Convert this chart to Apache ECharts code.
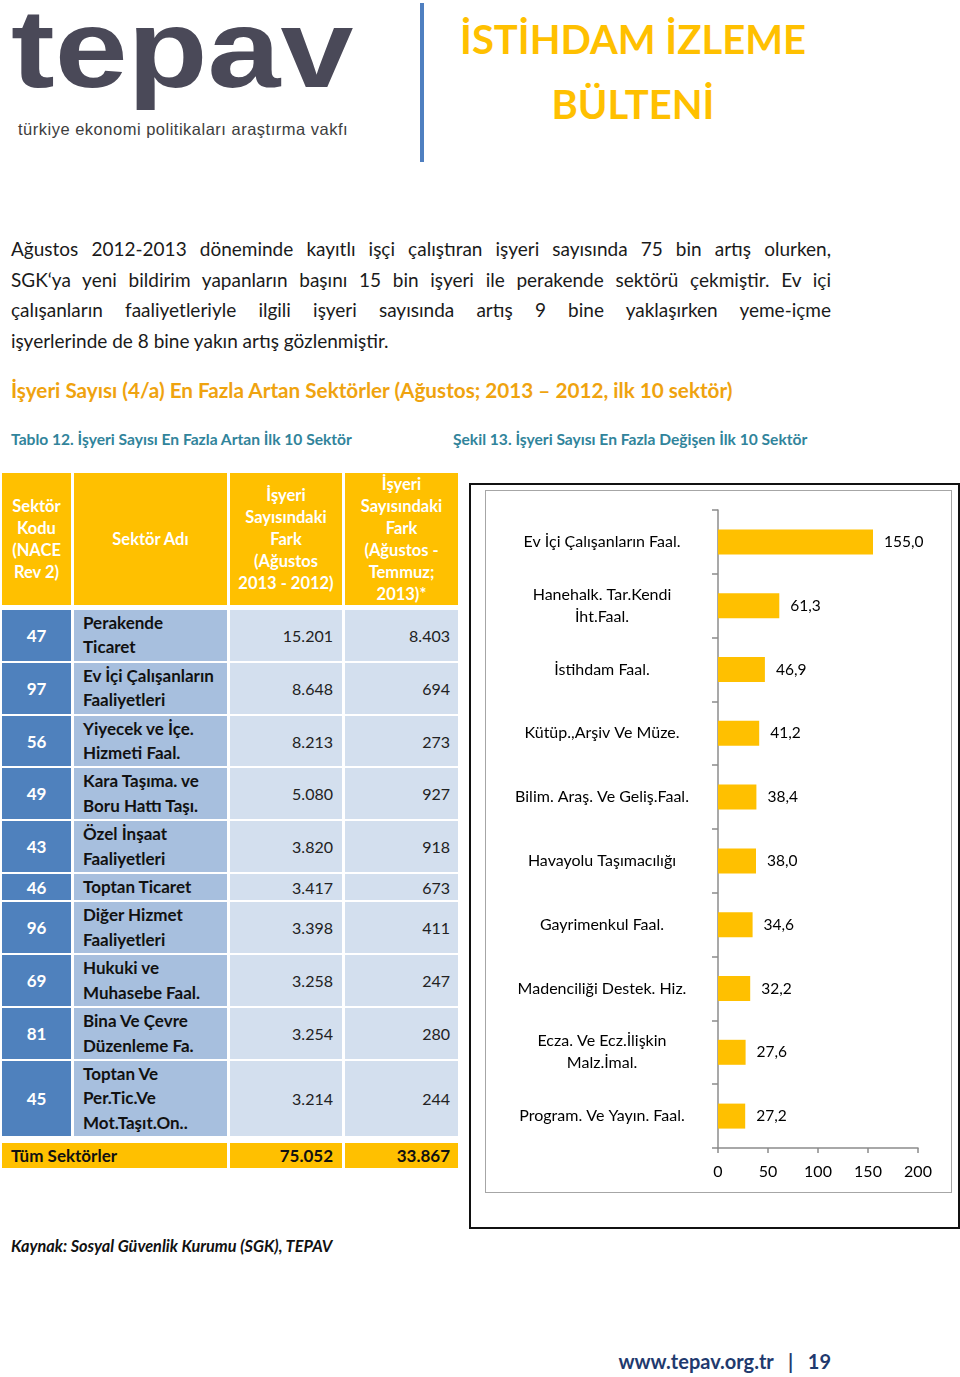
<!DOCTYPE html>
<html lang="tr">
<head>
<meta charset="utf-8">
<script src="https://cdn.jsdelivr.net/npm/echarts@6/dist/echarts.min.js"></script>
<style>
  html, body { margin:0; padding:0; width:960px; height:1377px; overflow:hidden; background:#fff; }
  body { position:relative; font-family: Lato, "Open Sans", sans-serif; }
  .abs { position:absolute; white-space:nowrap; }
  #logo { left:11px; top:-7px; font-family:"Liberation Sans", Arial, sans-serif; font-weight:bold; font-size:112px; line-height:112px; color:#4a4958; letter-spacing:0px; transform:scaleX(1.17); transform-origin:left top; }
  #logosub { left:18px; top:119px; font-family:"Liberation Sans", Arial, sans-serif; font-size:16.5px; line-height:20px; letter-spacing:0.5px; color:#3d3d3d; }
  #vline { left:420px; top:3px; width:4px; height:159px; background:#4f7fc0; }
  #title { left:433px; top:7px; width:400px; text-align:center; font-weight:bold; font-size:40px; line-height:65px; color:#FFC000; white-space:normal; }
  #para { left:11px; top:234px; width:820px; font-size:19px; line-height:30.67px; color:#1a1a1a; white-space:normal; }
  #para div { text-align:justify; text-align-last:justify; }
  #para div.last { text-align-last:left; }
  #heading { left:11px; top:375px; font-size:20.7px; line-height:30px; font-weight:bold; color:#EFA30F; }
  .sub { top:429px; font-size:15.6px; line-height:20px; font-weight:bold; color:#31849B; }
  #tbl { position:absolute; left:-1px; top:471px; border-collapse:separate; border-spacing:3px 2px; table-layout:fixed; width:462px; font-family:Lato, sans-serif; }
  #tbl th, #tbl td { padding:0; box-sizing:border-box; }
  #tbl th { background:#FFC000; color:#fff; font-weight:bold; font-size:16.5px; line-height:22px; height:131px; vertical-align:middle; text-align:center; }
  #tbl td.code { background:#4F81BD; color:#fff; font-weight:bold; font-size:17px; text-align:center; vertical-align:middle; }
  #tbl td.name { background:#A7BFDE; color:#111; font-weight:bold; font-size:17px; line-height:24.4px; padding:1px 0 1px 9px; white-space:pre-line; text-align:left; vertical-align:middle; }
  #tbl td.num { background:#D3DFEE; color:#222; font-size:16px; text-align:right; vertical-align:middle; padding-right:9px; }
  #tbl tr.tot td { background:#FFC000; color:#111; font-weight:bold; font-size:17px; line-height:25px; height:25px; }
  #tbl tr.tot td.lbl { text-align:left; padding-left:9px; }
  #tbl tr.tot td.tn { text-align:right; padding-right:9px; }
  #tbl tr.sp td { background:none; }
  #outer { left:469px; top:483px; width:491px; height:746px; box-sizing:border-box; border:2px solid #111; }
  #inner { left:485px; top:490px; width:467px; height:703px; box-sizing:border-box; border:1.5px solid #a6a6a6; }
  #chart { position:absolute; left:469px; top:483px; width:491px; height:746px; }
  #source { left:11px; top:1235px; font-size:16.3px; line-height:22px; font-weight:bold; font-style:italic; color:#111; }
  #foot { right:129px; top:1348px; font-size:20px; line-height:26px; font-weight:bold; color:#1F3A6E; }
</style>
</head>
<body>
<div id="logo" class="abs">tepav</div>
<div id="logosub" class="abs">türkiye ekonomi politikaları araştırma vakfı</div>
<div id="vline" class="abs"></div>
<div id="title" class="abs">İSTİHDAM İZLEME<br>BÜLTENİ</div>
<div id="para" class="abs">
  <div>Ağustos 2012-2013 döneminde kayıtlı işçi çalıştıran işyeri sayısında 75 bin artış olurken,</div>
  <div>SGK‘ya yeni bildirim yapanların başını 15 bin işyeri ile perakende sektörü çekmiştir. Ev içi</div>
  <div>çalışanların faaliyetleriyle ilgili işyeri sayısında artış 9 bine yaklaşırken yeme-içme</div>
  <div class="last">işyerlerinde de 8 bine yakın artış gözlenmiştir.</div>
</div>
<div id="heading" class="abs">İşyeri Sayısı (4/a) En Fazla Artan Sektörler (Ağustos; 2013 – 2012, ilk 10 sektör)</div>
<div class="abs sub" style="left:11px">Tablo 12. İşyeri Sayısı En Fazla Artan İlk 10 Sektör</div>
<div class="abs sub" style="left:453px">Şekil 13. İşyeri Sayısı En Fazla Değişen İlk 10 Sektör</div>

<table id="tbl"></table>

<div id="outer" class="abs"></div>
<div id="inner" class="abs"></div>
<div id="chart"></div>

<div id="source" class="abs">Kaynak: Sosyal Güvenlik Kurumu (SGK), TEPAV</div>
<div id="foot" class="abs">www.tepav.org.tr&nbsp;&nbsp;&nbsp;|&nbsp;&nbsp;&nbsp;19</div>

<script>
// ---- Table data ----
const tableHeaders = [
  "Sektör\nKodu\n(NACE\nRev 2)",
  "Sektör Adı",
  "İşyeri\nSayısındaki\nFark\n(Ağustos\n2013 - 2012)",
  "İşyeri\nSayısındaki\nFark\n(Ağustos -\nTemmuz;\n2013)*"
];
const sectorCodes = ["47", "97", "56", "49", "43", "46", "96", "69", "81", "45"];
const sectorNames = [
  "Perakende\nTicaret",
  "Ev İçi Çalışanların\nFaaliyetleri",
  "Yiyecek ve İçe.\nHizmeti Faal.",
  "Kara Taşıma. ve\nBoru Hattı Taşı.",
  "Özel İnşaat\nFaaliyetleri",
  "Toptan Ticaret",
  "Diğer Hizmet\nFaaliyetleri",
  "Hukuki ve\nMuhasebe Faal.",
  "Bina Ve Çevre\nDüzenleme Fa.",
  "Toptan Ve\nPer.Tic.Ve\nMot.Taşıt.On.."
];
const diffYear = [15201, 8648, 8213, 5080, 3820, 3417, 3398, 3258, 3254, 3214];
const diffMonth = [8403, 694, 273, 927, 918, 673, 411, 247, 280, 244];
const totalLabel = "Tüm Sektörler";
const totalYear = 75052;
const totalMonth = 33867;

// ---- Chart data ----
const chartCategories = [
  "Ev İçi Çalışanların Faal.",
  "Hanehalk. Tar.Kendi\nİht.Faal.",
  "İstihdam Faal.",
  "Kütüp.,Arşiv Ve Müze.",
  "Bilim. Araş. Ve Geliş.Faal.",
  "Havayolu Taşımacılığı",
  "Gayrimenkul Faal.",
  "Madenciliği Destek. Hiz.",
  "Ecza. Ve Ecz.İlişkin\nMalz.İmal.",
  "Program. Ve Yayın. Faal."
];
const chartValues = [155.0, 61.3, 46.9, 41.2, 38.4, 38.0, 34.6, 32.2, 27.6, 27.2];
const xAxisMin = 0, xAxisMax = 200, xAxisStep = 50;

// ---- Build table ----
function esc(s){ return s.replace(/&/g,'&amp;').replace(/</g,'&lt;'); }
function fmtThousands(n){ return String(n).replace(/\B(?=(\d{3})+(?!\d))/g, '.'); }
const colWidths = [69, 153, 112, 113];
let html = '<tr>' + tableHeaders.map((h, i) =>
  '<th style="width:' + colWidths[i] + 'px">' + esc(h).replace(/\n/g, '<br>') + '</th>').join('') + '</tr>';
html += '<tr class="sp"><td colspan="4" style="height:1px"></td></tr>';
for (let i = 0; i < sectorCodes.length; i++) {
  html += '<tr>' +
    '<td class="code">' + esc(sectorCodes[i]) + '</td>' +
    '<td class="name">' + esc(sectorNames[i]) + '</td>' +
    '<td class="num">' + fmtThousands(diffYear[i]) + '</td>' +
    '<td class="num" style="padding-right:8px">' + fmtThousands(diffMonth[i]) + '</td>' +
    '</tr>';
}
html += '<tr class="sp"><td colspan="4" style="height:3px"></td></tr>';
html += '<tr class="tot"><td class="lbl" colspan="2">' + esc(totalLabel) + '</td>' +
  '<td class="tn">' + fmtThousands(totalYear) + '</td>' +
  '<td class="tn" style="padding-right:8px">' + fmtThousands(totalMonth) + '</td></tr>';
document.getElementById('tbl').innerHTML = html;

// ---- Chart ----
const chart = echarts.init(document.getElementById('chart'), null, { renderer: 'canvas' });
const axisGray = '#8c8c8c';
chart.setOption({
  animation: false,
  backgroundColor: 'transparent',
  textStyle: { fontFamily: 'Lato, "Open Sans", sans-serif' },
  grid: { left: 249, top: 27, width: 200, height: 638, containLabel: false },
  xAxis: {
    type: 'value', min: xAxisMin, max: xAxisMax, interval: xAxisStep,
    axisLine: { show: true, lineStyle: { color: axisGray, width: 1.5 } },
    axisTick: { show: true, length: 5, lineStyle: { color: axisGray, width: 1.5 } },
    splitLine: { show: false },
    axisLabel: { color: '#000', fontSize: 16, margin: 16 }
  },
  yAxis: {
    type: 'category', data: chartCategories, inverse: true,
    axisLine: { show: true, lineStyle: { color: axisGray, width: 1.5 } },
    axisTick: { show: true, length: 6, lineStyle: { color: axisGray, width: 1.5 } },
    axisLabel: { align: 'center', margin: 116, color: '#000', fontSize: 16, lineHeight: 22 }
  },
  series: [{
    type: 'bar', data: chartValues, barWidth: 25,
    itemStyle: { color: '#FFC000' },
    label: {
      show: true, position: 'right', distance: 11, color: '#000', fontSize: 15.5,
      formatter: p => p.value.toFixed(1).replace('.', ',')
    }
  }]
});
</script>
</body>
</html>
